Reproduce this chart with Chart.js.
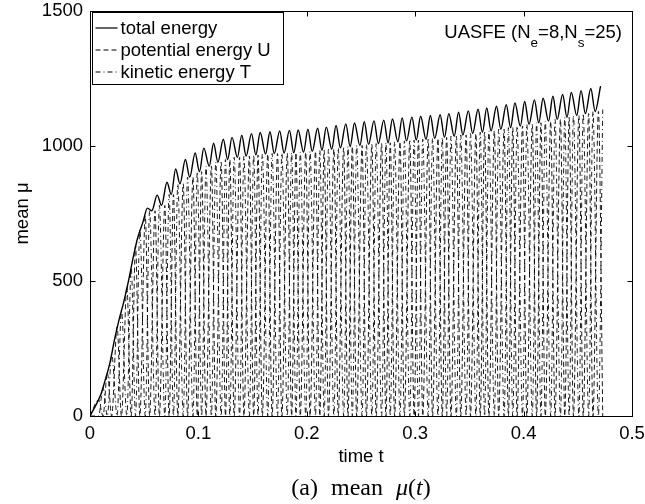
<!DOCTYPE html>
<html>
<head>
<meta charset="utf-8">
<script src="https://cdn.jsdelivr.net/npm/chart.js@4/dist/chart.umd.min.js"></script>
<style>
html,body{margin:0;padding:0;background:#fff;}
#wrap{position:relative;width:645px;height:504px;}
#caption{position:absolute;left:90px;width:542px;top:472px;text-align:center;font-family:"Liberation Serif","DejaVu Serif",serif;font-size:24px;word-spacing:7px;color:#000;line-height:30px;}
</style>
</head>
<body>
<div id="wrap">
<canvas id="c" width="645" height="504"></canvas>
<div id="caption">(a) mean <i>μ</i>(<i>t</i>)</div>
</div>
<script>
// ---- data ----
// total energy: times and values of its local maxima and minima
const peakTimes = [0.010,0.018,0.027,0.036,0.044,0.053,0.062,0.071,0.079,0.088,0.097,0.105,0.114,0.123,0.131,0.140,0.149,0.157,0.166,0.175,0.184,0.192,0.201,0.210,0.218,0.227,0.236,0.244,0.253,0.262,0.271,0.279,0.288,0.297,0.305,0.314,0.323,0.331,0.340,0.349,0.358,0.366,0.375,0.384,0.392,0.401,0.410,0.418,0.427,0.436,0.444,0.453,0.462,0.471];
const totalPeaks = [80,190,360,510,660,770,818,866,915,950,974,992,1010,1025,1032,1040,1046,1050,1053,1056,1058,1059,1062,1066,1070,1076,1082,1085,1090,1093,1096,1100,1104,1107,1110,1113,1116,1120,1125,1130,1136,1141,1147,1153,1159,1165,1171,1177,1184,1191,1198,1205,1213,1222];
const troughTimes = [0.014,0.023,0.031,0.040,0.049,0.057,0.066,0.075,0.083,0.092,0.101,0.110,0.118,0.127,0.136,0.144,0.153,0.162,0.170,0.179,0.188,0.197,0.205,0.214,0.223,0.231,0.240,0.249,0.257,0.266,0.275,0.284,0.292,0.301,0.310,0.318,0.327,0.336,0.344,0.353,0.362,0.370,0.379,0.388,0.397,0.405,0.414,0.423,0.431,0.440,0.449,0.457,0.466];
const totalTroughs = [133,290,420,590,720,760,780,820,860,885,905,925,940,950,958,963,967,970,972,974,975,977,980,984,988,993,998,1002,1006,1009,1012,1016,1019,1022,1025,1028,1032,1036,1041,1046,1051,1056,1062,1068,1074,1080,1086,1092,1099,1106,1113,1120,1128];
// potential U is high / kinetic T is low at swingTimesA; the reverse at swingTimesB
const swingTimesA = [0.008,0.016,0.025,0.034,0.042,0.051,0.060,0.069,0.077,0.086,0.095,0.103,0.112,0.121,0.129,0.138,0.147,0.155,0.164,0.173,0.182,0.190,0.199,0.208,0.216,0.225,0.234,0.242,0.251,0.260,0.269,0.277,0.286,0.295,0.303,0.312,0.321,0.329,0.338,0.347,0.356,0.364,0.373,0.382,0.390,0.399,0.408,0.416,0.425,0.434,0.442,0.451,0.460,0.469];
const swingTimesB = [0.012,0.020,0.029,0.038,0.046,0.055,0.064,0.073,0.081,0.090,0.099,0.107,0.116,0.125,0.133,0.142,0.151,0.159,0.168,0.177,0.186,0.194,0.203,0.212,0.220,0.229,0.238,0.246,0.255,0.264,0.273,0.281,0.290,0.299,0.307,0.316,0.325,0.333,0.342,0.351,0.360,0.368,0.377,0.386,0.394,0.403,0.412,0.420,0.429,0.438,0.446,0.455,0.464,0.473];
const potentialHighs = [60,160,330,480,630,740,760,780,820,860,885,905,925,940,950,958,963,967,970,972,974,975,977,980,984,988,993,998,1002,1006,1009,1012,1016,1019,1022,1025,1028,1032,1036,1041,1046,1051,1056,1062,1068,1074,1080,1086,1092,1099,1106,1113,1120,1128];
const kineticHighs = [105,230,390,550,690,760,780,820,860,885,905,925,940,950,958,963,967,970,972,974,975,977,980,984,988,993,998,1002,1006,1009,1012,1016,1019,1022,1025,1028,1032,1036,1041,1046,1051,1056,1062,1068,1074,1080,1086,1092,1099,1106,1113,1120,1128,1135];
const energyLow = 0;
const xTickValues = [0,0.1,0.2,0.3,0.4,0.5];
const yTickValues = [0,500,1000,1500];
const seriesNames = ['total energy','potential energy U','kinetic energy T'];

// ---- build point lists ----
const totalPts = [{x:0,y:0}];
for (let i = 0; i < peakTimes.length; i++) {
  totalPts.push({x:peakTimes[i], y:totalPeaks[i]});
  if (i < troughTimes.length) totalPts.push({x:troughTimes[i], y:totalTroughs[i]});
}
const uPts = [{x:0,y:0}], tPts = [{x:0,y:0}];
for (let i = 0; i < swingTimesA.length; i++) {
  uPts.push({x:swingTimesA[i], y:potentialHighs[i]});
  uPts.push({x:swingTimesB[i], y:energyLow});
  tPts.push({x:swingTimesA[i], y:energyLow});
  tPts.push({x:swingTimesB[i], y:kineticHighs[i]});
}

const FONT = '"Liberation Sans", Arial, Helvetica, sans-serif';
const styles = [
  {dash:[], width:1.4},
  {dash:[5,3], width:0.9},
  {dash:[5,3,1,3], width:0.9}
];

const frame = {
  id:'frame',
  afterDraw(chart){
    const {ctx, chartArea:a, scales:{x,y}} = chart;
    ctx.save();
    ctx.strokeStyle = '#000';
    ctx.lineWidth = 1;
    ctx.setLineDash([]);
    const L = 5;
    const l = Math.round(a.left)+0.5, r = Math.round(a.right)+0.5, t = Math.round(a.top)+0.5, b = Math.round(a.bottom)+0.5;
    ctx.strokeRect(l, t, r-l, b-t);
    ctx.beginPath();
    xTickValues.forEach(v=>{
      const px = Math.round(x.getPixelForValue(v))+0.5;
      ctx.moveTo(px,b); ctx.lineTo(px,b-L);
      ctx.moveTo(px,t); ctx.lineTo(px,t+L);
    });
    yTickValues.forEach(v=>{
      const py = Math.round(y.getPixelForValue(v))+0.5;
      ctx.moveTo(l,py); ctx.lineTo(l+L,py);
      ctx.moveTo(r,py); ctx.lineTo(r-L,py);
    });
    ctx.stroke();

    // legend box
    const bx = l+2, by = t+1, bw = 191, bh = 72;
    ctx.fillStyle = '#fff';
    ctx.fillRect(bx, by, bw, bh);
    ctx.strokeRect(bx, by, bw, bh);
    ctx.font = '18.5px ' + FONT;
    ctx.textBaseline = 'middle';
    ctx.fillStyle = '#000';
    seriesNames.forEach((name,i)=>{
      const cy = by + 15.5 + i*22;
      ctx.save();
      ctx.lineWidth = i === 0 ? 1.2 : 1;
      ctx.setLineDash(styles[i].dash);
      ctx.beginPath();
      ctx.moveTo(bx+3, cy); ctx.lineTo(bx+25, cy);
      ctx.stroke();
      ctx.restore();
      ctx.fillText(name, bx+28, cy+1);
    });

    // annotation with subscripts
    const parts = [['UASFE (N',0],['e',1],['=8,N',0],['s',1],['=25)',0]];
    const big = '18.5px ' + FONT, small = '13.5px ' + FONT;
    let w = 0;
    parts.forEach(p=>{ctx.font = p[1]?small:big; w += ctx.measureText(p[0]).width;});
    let cx = 622 - w;
    ctx.textBaseline = 'alphabetic';
    parts.forEach(p=>{
      ctx.font = p[1]?small:big;
      ctx.fillText(p[0], cx, p[1]?47:38);
      cx += ctx.measureText(p[0]).width;
    });
    ctx.restore();
  }
};

new Chart(document.getElementById('c'), {
  type:'line',
  data:{datasets:[
    {label:seriesNames[0], data:totalPts, borderColor:'#000', borderWidth:styles[0].width, pointRadius:0, fill:false, cubicInterpolationMode:'monotone'},
    {label:seriesNames[1], data:uPts, borderColor:'#000', borderWidth:styles[1].width, borderDash:styles[1].dash, pointRadius:0, fill:false, cubicInterpolationMode:'monotone'},
    {label:seriesNames[2], data:tPts, borderColor:'#000', borderWidth:styles[2].width, borderDash:styles[2].dash, pointRadius:0, fill:false, cubicInterpolationMode:'monotone'}
  ]},
  options:{
    responsive:false, animation:false, devicePixelRatio:1,
    layout:{padding:{left:0, top:11, right:13, bottom:36}},
    plugins:{legend:{display:false}, tooltip:{enabled:false}},
    scales:{
      x:{
        type:'linear', min:0, max:0.5,
        afterBuildTicks(s){ s.ticks = xTickValues.map(v=>({value:v})); },
        afterFit(s){ s.height = 52; s.paddingLeft = 0; s.paddingRight = 0; },
        grid:{display:false, drawTicks:false}, border:{display:false},
        ticks:{padding:7, color:'#000', font:{family:FONT, size:18.5}, maxRotation:0, autoSkip:false, callback:(v)=>String(v)},
        title:{display:true, text:'time t', color:'#000', font:{family:FONT, size:18.5}, padding:{top:0,bottom:0}}
      },
      y:{
        type:'linear', min:0, max:1500,
        afterBuildTicks(s){ s.ticks = yTickValues.map(v=>({value:v})); },
        afterFit(s){ s.width = 90; s.paddingTop = 0; s.paddingBottom = 0; },
        grid:{display:false, drawTicks:false}, border:{display:false},
        ticks:{padding:7, color:'#000', font:{family:FONT, size:18.5}, callback:(v)=>String(v)},
        title:{display:true, text:'mean μ', color:'#000', font:{family:FONT, size:18.5}, padding:{top:12,bottom:0}}
      }
    }
  },
  plugins:[frame]
});
</script>
</body>
</html>
